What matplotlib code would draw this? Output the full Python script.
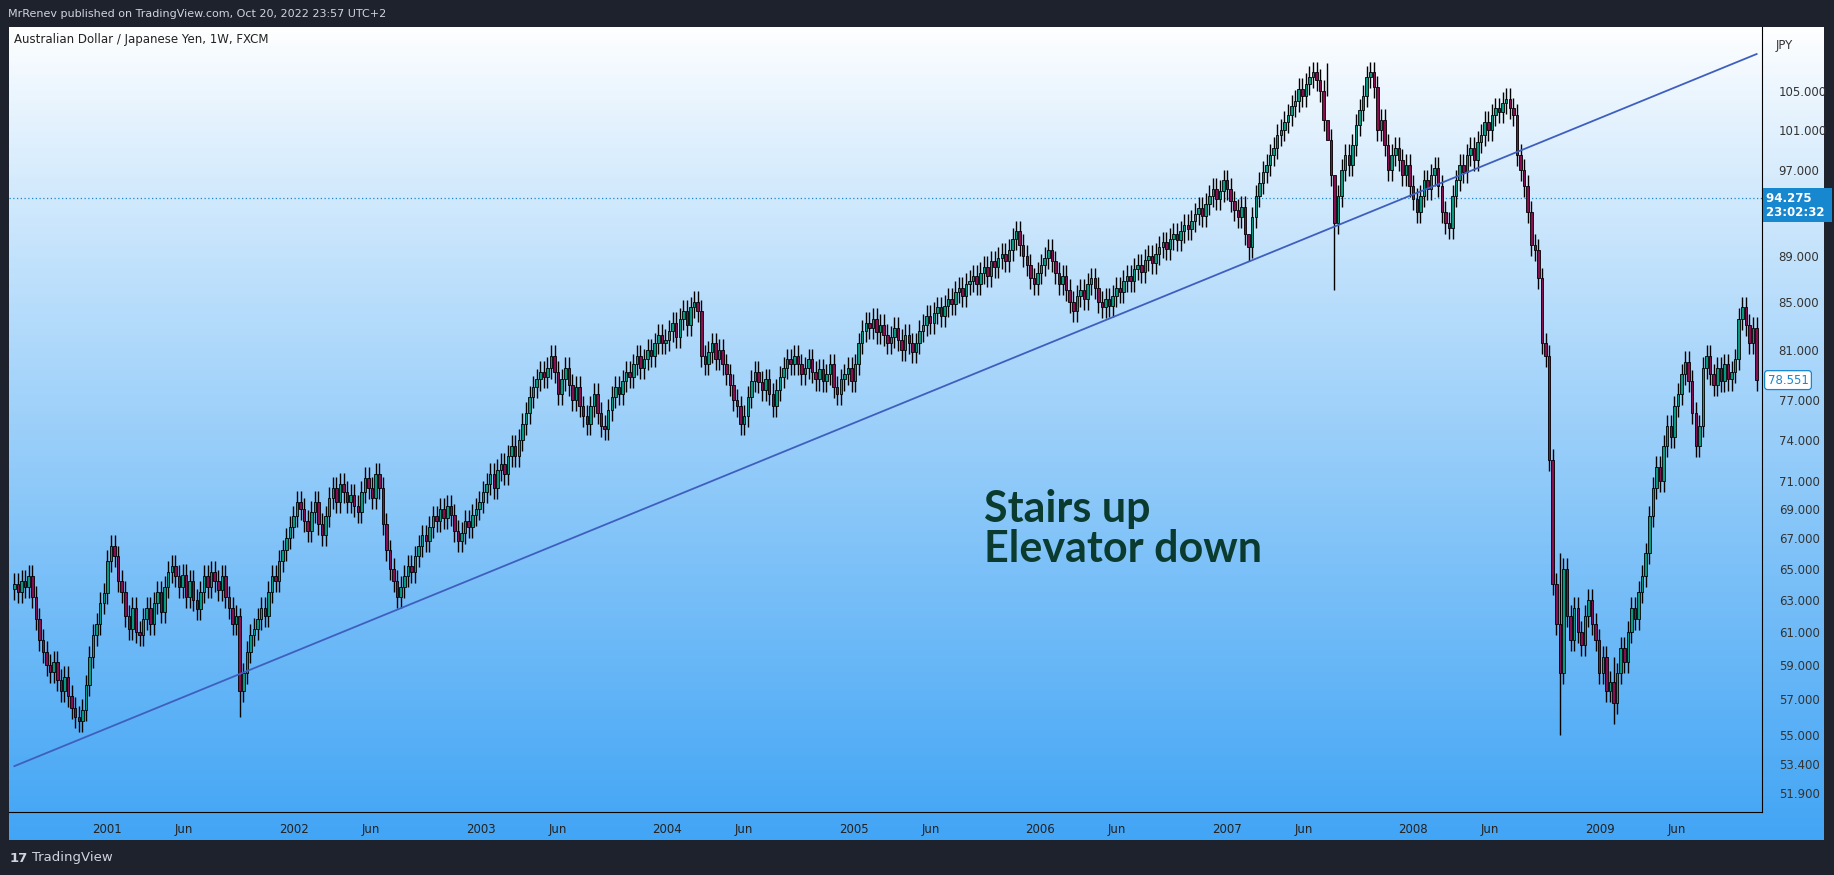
import numpy as np
import matplotlib
matplotlib.use("Agg")
import matplotlib.pyplot as plt
from matplotlib.ticker import FixedLocator, NullLocator

# weekly closes, AUD/JPY, Jul 2000 - Nov 2009
close_2000 = [64.0, 63.5, 64.2, 63.8, 64.5, 63.2, 61.8, 60.5, 59.8, 59.0, 58.6, 59.2, 58.1,
              57.5, 58.3, 57.2, 56.5, 56.0, 55.8, 56.4, 57.8, 59.5, 60.8, 61.5, 62.8, 63.4]
close_2001 = [65.5, 66.5, 65.8, 64.2, 63.5, 62.0, 61.2, 62.5, 61.0, 60.8, 61.8, 62.5, 61.5,
              62.8, 63.5, 62.2, 63.8, 64.8, 65.2, 64.5, 63.8, 64.6, 63.2, 64.2, 63.0, 62.4,
              63.5, 64.5, 63.8, 64.8, 64.2, 63.6, 64.5, 63.2, 62.5, 61.5, 62.0, 57.5, 58.5,
              59.8, 60.8, 61.2, 61.8, 62.5, 62.0, 63.5, 64.5, 64.2, 65.5, 66.2, 67.0, 67.8]
close_2002 = [68.5, 69.5, 69.0, 68.2, 67.5, 68.8, 69.5, 68.0, 67.2, 68.5, 69.8, 70.5, 69.5,
              70.8, 70.2, 69.5, 70.0, 69.2, 68.8, 70.2, 71.2, 70.5, 69.8, 71.5, 70.5, 68.0,
              66.2, 65.0, 64.2, 63.2, 63.8, 64.5, 65.2, 64.8, 65.8, 66.5, 67.2, 66.8, 67.8,
              68.5, 68.2, 69.0, 68.4, 69.2, 68.6, 67.5, 66.8, 67.4, 68.2, 67.8, 68.6, 69.0]
close_2003 = [69.5, 70.2, 70.8, 71.5, 70.5, 71.8, 72.2, 71.5, 72.8, 73.5, 72.8, 74.0, 75.2,
              76.0, 77.2, 78.0, 78.6, 79.2, 78.8, 79.5, 80.5, 79.2, 77.5, 78.6, 79.5, 78.2,
              77.0, 78.0, 76.5, 75.8, 75.2, 76.5, 77.5, 76.0, 75.0, 74.8, 76.2, 77.2, 78.0,
              77.5, 78.5, 79.2, 78.8, 79.8, 80.5, 79.5, 80.2, 81.0, 80.5, 81.5, 82.2, 81.5]
close_2004 = [81.8, 82.5, 83.2, 82.0, 83.5, 84.2, 83.0, 84.5, 85.0, 84.2, 80.5, 79.8, 80.8,
              81.5, 80.2, 81.0, 79.8, 79.0, 78.2, 77.0, 76.5, 75.2, 75.8, 77.2, 78.5, 79.2,
              78.4, 77.8, 78.6, 77.5, 76.5, 77.8, 78.8, 79.5, 80.2, 79.8, 80.5, 79.8, 79.0,
              79.5, 80.2, 79.2, 78.6, 79.4, 78.5, 79.0, 79.8, 78.0, 77.5, 78.6, 79.0, 79.5]
close_2005 = [78.5, 79.8, 81.5, 82.5, 83.2, 82.8, 83.5, 82.4, 83.0, 82.2, 81.5, 82.0, 82.8,
              81.8, 81.0, 82.2, 81.5, 80.8, 81.5, 82.5, 83.0, 83.8, 83.2, 84.0, 84.5, 83.8,
              84.6, 85.2, 84.8, 85.8, 86.2, 85.5, 86.5, 86.8, 87.2, 86.5, 87.5, 88.0, 87.2,
              88.5, 88.0, 88.8, 89.2, 88.5, 89.5, 90.5, 91.2, 90.0, 89.0, 88.2, 87.0, 86.5]
close_2006 = [87.5, 88.2, 88.8, 89.5, 88.5, 87.5, 86.5, 87.2, 86.0, 85.0, 84.2, 85.5, 86.0,
              85.2, 86.5, 87.0, 86.2, 85.0, 84.5, 85.2, 84.6, 85.5, 86.2, 85.8, 86.8, 87.2,
              86.8, 87.8, 88.2, 87.6, 88.6, 89.0, 88.4, 89.2, 89.8, 90.2, 89.6, 90.5, 91.0,
              90.4, 91.2, 91.8, 91.4, 92.2, 92.8, 93.4, 92.6, 93.8, 94.5, 95.2, 94.2, 95.0]
close_2007 = [96.0, 95.2, 94.0, 93.2, 92.5, 93.5, 91.0, 89.8, 92.5, 94.5, 95.8, 96.8, 97.5,
              98.5, 99.2, 100.5, 101.0, 101.8, 102.5, 103.5, 104.0, 105.2, 104.5, 105.8, 106.5,
              107.0, 106.2, 105.0, 102.0, 100.0, 96.5, 92.0, 94.5, 97.0, 98.5, 97.5, 99.5,
              101.5, 103.0, 104.5, 106.5, 107.0, 105.5, 101.0, 102.0, 99.5, 97.0, 98.5, 99.2,
              98.0, 96.5, 97.5]
close_2008 = [95.5, 94.2, 93.0, 94.5, 96.0, 95.2, 96.5, 97.2, 95.5, 93.0, 92.0, 91.5, 94.5,
              96.0, 97.5, 96.8, 98.5, 99.2, 98.0, 99.8, 100.5, 101.8, 101.0, 102.5, 103.2,
              102.8, 103.8, 104.2, 103.2, 102.5, 98.5, 97.0, 95.5, 93.0, 90.0, 89.5, 87.0,
              81.5, 80.5, 72.5, 64.0, 61.5, 58.5, 65.0, 62.0, 60.5, 62.5, 61.0, 60.2, 62.0,
              63.0, 61.5]
close_2009 = [60.5, 58.5, 59.5, 57.5, 58.0, 56.8, 58.5, 60.0, 59.2, 61.0, 62.5, 61.8, 63.5,
              64.5, 66.0, 68.5, 70.5, 72.0, 71.0, 73.5, 75.0, 74.2, 76.5, 77.5, 79.0, 80.0,
              78.5, 76.0, 73.5, 75.0, 79.5, 80.5, 79.0, 78.2, 79.5, 78.5, 79.8, 78.6, 79.2,
              80.2, 83.5, 84.5, 83.0, 81.5, 82.8, 78.551]

# notable long wicks: week index -> (high, low)
spike_weeks = [63, 369, 432, 447, 345, 367]
spike_highs = [62.5, 96.0, 66.0, 59.5, 90.5, 108.0]
spike_lows = [56.0, 86.0, 55.0, 55.6, 88.5, 104.5]

year_labels = ["2001", "2002", "2003", "2004", "2005", "2006", "2007", "2008", "2009"]
price_ticks = [51.9, 53.4, 55, 57, 59, 61, 63, 65, 67, 69, 71, 74, 77, 81, 85, 89, 97, 101, 105]
trend_start, trend_end = 53.3, 109.0
last_bar_price, last_bar_label = 94.275, "94.275 \n23:02:32 "
last_close_label = "78.551"

closes = np.array(close_2000 + close_2001 + close_2002 + close_2003 + close_2004 +
                  close_2005 + close_2006 + close_2007 + close_2008 + close_2009)
n = len(closes)
opens = np.concatenate([[closes[0] - 0.3], closes[:-1]])
highs = np.maximum(opens, closes) * 1.011
lows = np.minimum(opens, closes) * 0.989
for w, h, l in zip(spike_weeks, spike_highs, spike_lows):
    highs[w], lows[w] = h, l

W, H = 1834, 875
fig = plt.figure(figsize=(W / 100, H / 100), dpi=100)
fig.patch.set_facecolor("#1e222d")

# panel background gradient (white -> blue)
bg = fig.add_axes([9 / W, 1 - 840 / H, (1823 - 9) / W, (840 - 27) / H])
grad = np.linspace(0, 1, 256)[:, None]
top, bot = np.array([1.0, 1.0, 1.0]), np.array([0x42, 0xa5, 0xf5]) / 255
img = top + (bot - top) * grad[..., None] ** 0.9
bg.imshow(img.repeat(2, axis=1), aspect="auto", extent=[0, 1, 0, 1])
bg.set_axis_off()

ax = fig.add_axes([9 / W, 1 - 812 / H, (1762 - 9) / W, (812 - 27) / H])
ax.patch.set_alpha(0)
ax.set_yscale("log")
ax.set_xlim(-1.5, n + 0.5)
ax.set_ylim(50.9, 112.0)

x = np.arange(n)
up = closes >= opens
ax.vlines(x, lows, highs, color="black", lw=1, zorder=2)
body_lo = np.minimum(opens, closes)
body_h = np.maximum(np.abs(closes - opens), 0.08)
ax.bar(x[up], body_h[up], bottom=body_lo[up], width=0.7, color="#089981",
       edgecolor="black", lw=0.6, zorder=3)
ax.bar(x[~up], body_h[~up], bottom=body_lo[~up], width=0.7, color="#880e4f",
       edgecolor="black", lw=0.6, zorder=3)

ax.plot([0, n - 1], [trend_start, trend_end], color="#3f5fbf", lw=1.3, zorder=4)
ax.axhline(last_bar_price, color="#1e88c8", ls=(0, (1, 2)), lw=0.9, zorder=1)

ax.text(271, 70.4, "Stairs up\nElevator down", fontsize=31, color="#0b3b2e",
        fontfamily="Lato", fontweight="bold", va="top", ha="left", linespacing=1.0)

ax.text(0.003, 0.992, "Australian Dollar / Japanese Yen, 1W, FXCM", transform=ax.transAxes,
        fontsize=8.5, color="#222222", va="top", ha="left")

# axes styling
for s in ["top", "left"]:
    ax.spines[s].set_visible(False)
ax.spines["right"].set_color("black")
ax.spines["bottom"].set_color("black")
ax.yaxis.tick_right()
ax.yaxis.set_major_locator(FixedLocator(price_ticks))
ax.yaxis.set_minor_locator(NullLocator())
ax.set_yticklabels([f"{p:.3f}" for p in price_ticks])
ax.tick_params(axis="y", length=0, pad=12, labelsize=8.5, labelcolor="#333333")
year_pos = [26 + 52.15 * k for k in range(len(year_labels))]
jun_pos = [p + 21.5 for p in year_pos]
ax.set_xticks(year_pos + jun_pos)
ax.set_xticklabels(year_labels + ["Jun"] * len(jun_pos))
ax.tick_params(axis="x", length=0, pad=8, labelsize=8.5, labelcolor="#222222")
ax.text(1.008, 0.985, "JPY", transform=ax.transAxes, fontsize=8.5, color="#333333",
        va="top")
ax.annotate(last_bar_label, (1, last_bar_price), xycoords=("axes fraction", "data"),
            xytext=(3, -5), textcoords="offset points", fontsize=8.5, color="white",
            fontweight="bold", va="center", ha="left", linespacing=1.1,
            bbox=dict(boxstyle="square,pad=0.3", fc="#1787d0", ec="none"))
ax.annotate(last_close_label, (1, closes[-1]), xycoords=("axes fraction", "data"),
            xytext=(4, 0), textcoords="offset points", fontsize=8.5, color="#1787d0",
            va="center", ha="left",
            bbox=dict(boxstyle="round,pad=0.25", fc="white", ec="#1787d0", lw=0.9))

fig.text(8 / W, 1 - 14 / H, "MrRenev published on TradingView.com, Oct 20, 2022 23:57 UTC+2",
         color="#d1d4dc", fontsize=8, va="center")
fig.text(32 / W, 1 - 858 / H, "TradingView", color="#d1d4dc", fontsize=9.5, va="center")
fig.text(10 / W, 1 - 858 / H, "17", color="#d1d4dc", fontsize=9.5, fontweight="heavy",
         va="center")

fig.savefig("out.png", dpi=100, facecolor=fig.get_facecolor())
